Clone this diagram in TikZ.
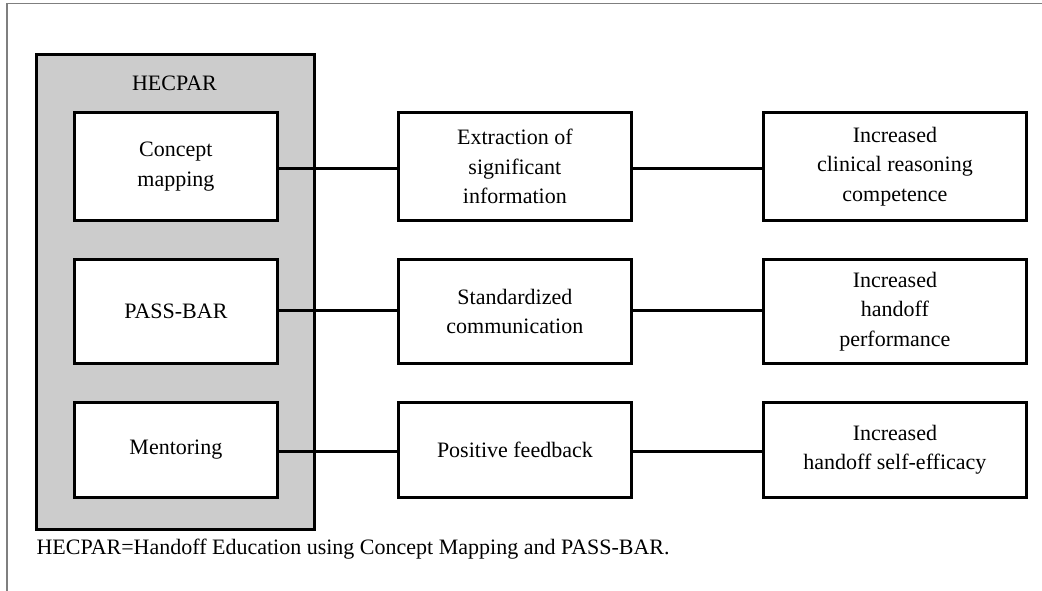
\documentclass[tikz,border=0pt]{standalone}
\usepackage{fontspec}
\setmainfont{Liberation Serif}
\definecolor{panelgray}{HTML}{CCCCCC}
\definecolor{framegray}{HTML}{7F7F7F}
\tikzset{
  txt/.style={font=\fontsize{22}{29.5}\selectfont, text=black},
  box/.style={txt, draw=black, fill=white, line width=2.8pt, align=center,
              inner sep=0pt, anchor=north west},
  panel/.style={draw=black, fill=panelgray, line width=2.8pt, inner sep=0pt,
                anchor=north west},
  link/.style={draw=black, line width=3pt},
  frame/.style={draw=framegray, line width=1.4pt}
}
\begin{document}
\begin{tikzpicture}[x=1pt,y=-1pt]
\useasboundingbox (0,0) rectangle (1042,591);
% page frame (top and left rules)
\draw[frame] (1042,3.5) -- (7,3.5) -- (7,591);

% HECPAR panel
\node[panel, minimum width=278pt, minimum height=475pt] (hecpar) at (35,53) {};
\node[txt] (hecparlbl) at (174.5,83) {HECPAR};

% components
\node[box, minimum width=203pt, minimum height=108pt] (cm) at (73,111) {Concept\\mapping};
\node[box, minimum width=203pt, minimum height=104pt] (pb) at (73,258) {PASS-BAR};
\node[box, minimum width=203pt, minimum height=95pt]  (mt) at (73,401) {Mentoring};

% mechanisms
\node[box, minimum width=233pt, minimum height=108pt] (ex) at (397,111) {Extraction of\\significant\\information};
\node[box, minimum width=233pt, minimum height=104pt] (sc) at (397,258) {Standardized\\communication};
\node[box, minimum width=233pt, minimum height=95pt]  (pf) at (397,401) {Positive feedback};

% outcomes
\node[box, minimum width=263pt, minimum height=108pt] (cr) at (762,111) {Increased\\clinical reasoning\\competence};
\node[box, minimum width=263pt, minimum height=104pt] (hp) at (762,258) {Increased\\handoff\\performance};
\node[box, minimum width=263pt, minimum height=95pt]  (he) at (762,401) {Increased\\handoff self-efficacy};

% connectors, set slightly below each row's middle
\draw[link] ([yshift=-2.5pt]cm.east) -- ([yshift=-2.5pt]ex.west);
\draw[link] ([yshift=-2.5pt]ex.east) -- ([yshift=-2.5pt]cr.west);
\draw[link] ([yshift=0.5pt]pb.east) -- ([yshift=0.5pt]sc.west);
\draw[link] ([yshift=0.5pt]sc.east) -- ([yshift=0.5pt]hp.west);
\draw[link] ([yshift=-2pt]mt.east) -- ([yshift=-2pt]pf.west);
\draw[link] ([yshift=-2pt]pf.east) -- ([yshift=-2pt]he.west);

% footnote
\node[txt, anchor=west] (note) at (33,549) {HECPAR=Handoff Education using Concept Mapping and PASS-BAR.};
\end{tikzpicture}
\end{document}
